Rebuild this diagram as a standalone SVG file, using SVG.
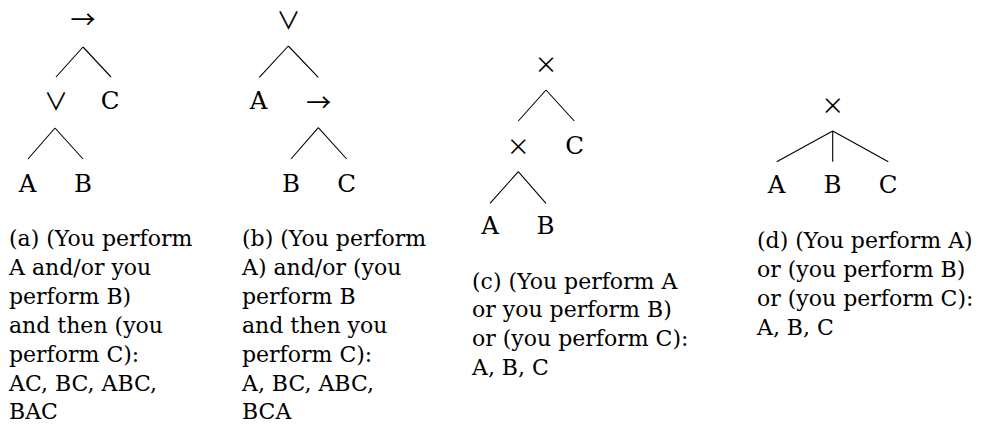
<svg xmlns="http://www.w3.org/2000/svg" width="982" height="424" viewBox="0 0 982 424">
<style>
text{fill:#000}
.lbl{font-size:24.5px;text-anchor:middle}
.arr{font-size:25px;text-anchor:middle}
.vee{font-size:24px;text-anchor:middle}
.tim{font-size:23px;text-anchor:middle}
.cap{font-size:22px}
.edge{stroke:#000;stroke-width:1.1;fill:none}
</style>
<rect width="982" height="424" fill="#fff"/>
<g id="connectors">
<path class="edge" d="M83,47 L56,77 M83,47 L111,77 M55,128 L28,159 M55,128 L83,159"/>
<path class="edge" d="M288.3,46 L259.3,77.3 M288.3,46 L318.3,77.3 M318.3,127.7 L291,159 M318.3,127.7 L346.7,159"/>
<path class="edge" d="M546,90 L518.3,121 M546,90 L574.3,121 M518.3,171.7 L490,203.3 M518.3,171.7 L546,203.3"/>
<path class="edge" d="M832.7,131 L776.7,161.7 M832.7,131 L832.7,161.7 M832.7,131 L888.3,161.7"/>
</g>
<g font-family="Noto Sans CJK SC, DejaVu Sans, sans-serif">
<g id="a-seq"><text class="arr" x="83" y="29">→</text></g>
<g id="b-seq"><text class="arr" x="318.7" y="111.5">→</text></g>
<g id="a-or"><text class="vee" x="56" y="110">∨</text></g>
<g id="b-or"><text class="vee" x="288.5" y="29">∨</text></g>
<g id="c-xor"><text class="tim" x="546" y="73">×</text></g>
<g id="c-xor2"><text class="tim" x="518.3" y="154.5">×</text></g>
<g id="d-xor"><text class="tim" x="832.7" y="113.5">×</text></g>
</g>
<g font-family="DejaVu Serif, serif">
<g id="a-C"><text class="lbl" x="110" y="109">C</text></g>
<g id="a-A"><text class="lbl" x="27.5" y="192">A</text></g>
<g id="a-B"><text class="lbl" x="83" y="192">B</text></g>
<g id="b-A"><text class="lbl" x="258.5" y="108.5">A</text></g>
<g id="b-B"><text class="lbl" x="291" y="191.5">B</text></g>
<g id="b-C"><text class="lbl" x="346.5" y="191.5">C</text></g>
<g id="c-C"><text class="lbl" x="574.7" y="154">C</text></g>
<g id="c-A"><text class="lbl" x="490" y="234.3">A</text></g>
<g id="c-B"><text class="lbl" x="545.5" y="234.3">B</text></g>
<g id="d-A"><text class="lbl" x="776.5" y="193.3">A</text></g>
<g id="d-B"><text class="lbl" x="832.5" y="193.3">B</text></g>
<g id="d-C"><text class="lbl" x="888" y="193.3">C</text></g>
<g id="caption-a"><text class="cap" x="9" y="246"><tspan x="9">(a) (You perform</tspan><tspan x="9" dy="28.9">A and/or you</tspan><tspan x="9" dy="28.9">perform B)</tspan><tspan x="9" dy="28.9">and then (you</tspan><tspan x="9" dy="28.9">perform C):</tspan><tspan x="9" dy="28.9">AC, BC, ABC,</tspan><tspan x="9" dy="28.9">BAC</tspan></text></g>
<g id="caption-b"><text class="cap" x="242" y="246"><tspan x="242">(b) (You perform</tspan><tspan x="242" dy="28.9">A) and/or (you</tspan><tspan x="242" dy="28.9">perform B</tspan><tspan x="242" dy="28.9">and then you</tspan><tspan x="242" dy="28.9">perform C):</tspan><tspan x="242" dy="28.9">A, BC, ABC,</tspan><tspan x="242" dy="28.9">BCA</tspan></text></g>
<g id="caption-c"><text class="cap" x="472" y="288.5"><tspan x="472">(c) (You perform A</tspan><tspan x="472" dy="28.9">or you perform B)</tspan><tspan x="472" dy="28.9">or (you perform C):</tspan><tspan x="472" dy="28.9">A, B, C</tspan></text></g>
<g id="caption-d"><text class="cap" x="757" y="248"><tspan x="757">(d) (You perform A)</tspan><tspan x="757" dy="28.9">or (you perform B)</tspan><tspan x="757" dy="28.9">or (you perform C):</tspan><tspan x="757" dy="28.9">A, B, C</tspan></text></g>
</g>
</svg>
